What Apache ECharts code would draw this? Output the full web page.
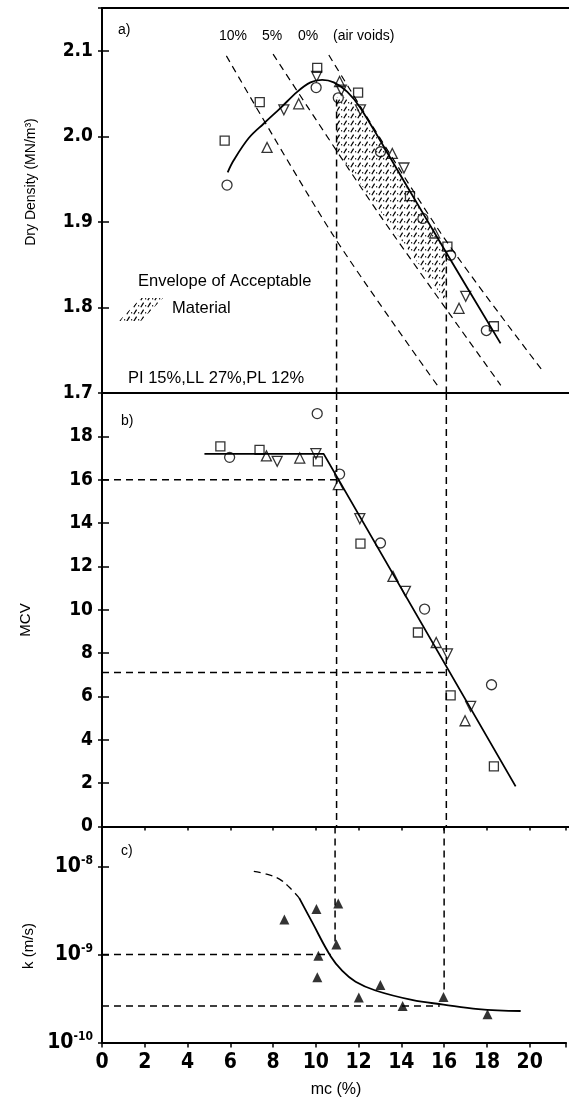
<!DOCTYPE html>
<html><head><meta charset="utf-8">
<script src="https://cdn.jsdelivr.net/npm/echarts@6/dist/echarts.min.js"></script>
<style>html,body{margin:0;padding:0;background:#fff}#c{width:569px;height:1101px}</style>
</head><body><div id="c"></div>
<script>
// ---------- data ----------
const mcTicks = [0,2,4,6,8,10,12,14,16,18,20];
const densityTicks = [1.7,1.8,1.9,2.0,2.1];
const mcvTicks = [0,2,4,6,8,10,12,14,16,18];
const kTicks = [1e-10,1e-9,1e-8];

// panel a: dry density vs mc
const aCircle   = [[5.81,1.943],[9.95,2.057],[10.98,2.045],[12.94,1.982],[14.91,1.904],[16.2,1.861],[17.86,1.773]];
const aSquare   = [[5.70,1.995],[7.33,2.040],[10.0,2.080],[11.9,2.051],[14.31,1.930],[16.05,1.871],[18.21,1.778]];
const aTriUp    = [[7.67,1.987],[9.14,2.038],[11.04,2.064],[13.49,1.980],[15.46,1.887],[16.59,1.799]];
const aTriDown  = [[8.45,2.031],[9.97,2.070],[11.12,2.054],[12.01,2.031],[14.03,1.963],[16.9,1.813]];
const aCurve    = [[5.84,1.958],[6.12,1.972],[6.82,1.998],[7.52,2.015],[8.29,2.033],[9.07,2.052],[9.69,2.063],[10.23,2.066],[10.77,2.063],[11.4,2.052],[12.01,2.033],[14.0,1.949],[16.0,1.864],[18.52,1.758]];
const airVoids10 = [[5.78,2.094],[10.7,1.886],[15.58,1.709]];
const airVoids5  = [[7.95,2.096],[12.8,1.912],[18.53,1.709]];
const airVoids0  = [[10.54,2.095],[15.74,1.887],[20.47,1.726]];
const envelope   = [[10.9,2.046],[11.4,2.046],[12.0,2.029],[13.0,1.990],[14.0,1.947],[15.0,1.905],[16.0,1.862],[16.0,1.806],[10.9,1.983]];
const aRefLines  = [[[10.9,2.043],[10.9,1.7]], [[16.0,1.862],[16.0,1.7]]];

// panel b: MCV vs mc
const bCircle  = [[5.93,17.03],[10.0,19.05],[11.04,16.26],[12.94,13.08],[14.99,10.03],[18.1,6.54]];
const bSquare  = [[5.5,17.54],[7.32,17.38],[10.03,16.85],[12.01,13.05],[14.68,8.95],[16.2,6.05],[18.21,2.77]];
const bTriUp   = [[7.64,17.1],[9.19,17.0],[10.98,15.77],[13.52,11.54],[15.53,8.49],[16.87,4.88]];
const bTriDown = [[8.14,16.85],[9.94,17.2],[11.98,14.2],[14.1,10.85],[16.05,7.96],[17.13,5.54]];
const bLine    = [[4.76,17.19],[10.3,17.19],[19.22,1.85]];
const bRefLines = [[[10.9,20],[10.9,0]], [[16.0,20],[16.0,0]], [[0,16],[10.9,16]], [[0,7.1],[16.0,7.1]]];

// panel c: permeability k vs mc
const cTri = [[8.53,2.5e-9],[10.03,3.3e-9],[11.05,3.8e-9],[10.96,1.3e-9],[10.12,0.97e-9],[10.07,5.5e-10],[13.02,4.5e-10],[12.01,3.25e-10],[14.06,2.6e-10],[15.97,3.3e-10],[18.03,2.1e-10]];
const cCurveDashed = [[7.1,8.8e-9],[7.7,8.2e-9],[8.3,7.2e-9],[8.76,5.8e-9],[9.22,4.4e-9]];
const cCurveSolid  = [[9.22,4.4e-9],[9.84,2.3e-9],[10.7,0.95e-9],[11.24,6.5e-10],[11.86,4.9e-10],[12.79,3.9e-10],[14.49,3.05e-10],[15.97,2.7e-10],[17.6,2.4e-10],[19.58,2.28e-10]];
const cRefLines = [[[10.9,2.85e-8],[10.9,1.35e-9]], [[16.0,2.85e-8],[16.0,3.6e-10]], [[0,1e-9],[10.7,1e-9]], [[0,2.6e-10],[15.8,2.6e-10]]];

// ---------- styles ----------
const NARROW = '"Liberation Sans Narrow","DejaVu Sans Condensed","Liberation Sans",sans-serif';
const SANS = '"Liberation Sans",Arial,sans-serif';
const DASH = [7,5];

function hatchPattern(){
  const c = document.createElement('canvas'); c.width = 7; c.height = 7;
  const g = c.getContext('2d');
  g.strokeStyle = '#000'; g.lineWidth = 1.2;
  g.beginPath(); g.moveTo(0.8,6.2); g.lineTo(3.6,1.6); g.stroke();
  g.fillStyle = '#000'; g.fillRect(5,4.2,1.2,1.2);
  return {image: c, repeat: 'repeat'};
}
const hatch = hatchPattern();

const openStyle = {color:'rgba(0,0,0,0)', borderColor:'#000', borderWidth:1.3};
function scatter(data, symbol, xi, yi, rot, size, style){
  return {type:'scatter', data, symbol, symbolSize:size||10, symbolRotate:rot||0,
    xAxisIndex:xi, yAxisIndex:yi, itemStyle:style||openStyle, z:5, silent:true};
}
function line(data, xi, yi, opts){
  opts = opts||{};
  return {type:'line', data, xAxisIndex:xi, yAxisIndex:yi, showSymbol:false, symbol:'none',
    smooth:opts.smooth||false, lineStyle:{color:'#000', width:opts.width||1.3, type:opts.type||'solid'},
    z:3, silent:true, clip:false};
}

const series = [];
// panel a
series.push({type:'custom', xAxisIndex:0, yAxisIndex:0, data:[[0,0]], silent:true, z:1,
  renderItem:(p, api)=>({type:'polygon', shape:{points: envelope.map(v=>api.coord(v))},
    style:{fill: hatch, stroke:'none'}})});
series.push(line(aCurve,0,0,{smooth:0.35,width:1.8}));
[airVoids10, airVoids5, airVoids0].forEach(d=>series.push(line(d,0,0,{smooth:0.3,type:DASH,width:1.2})));
aRefLines.forEach(d=>series.push(line(d,0,0,{type:DASH,width:1.5})));
series.push(scatter(aCircle,'circle',0,0,0,10));
series.push(scatter(aSquare,'rect',0,0,0,9));
series.push(scatter(aTriUp,'triangle',0,0,0,10));
series.push(scatter(aTriDown,'triangle',0,0,180,10));
// panel b
series.push(line(bLine,2,2,{width:1.8}));
bRefLines.forEach(d=>series.push(line(d,2,2,{type:DASH,width:1.5})));
series.push(scatter(bCircle,'circle',2,2,0,10));
series.push(scatter(bSquare,'rect',2,2,0,9));
series.push(scatter(bTriUp,'triangle',2,2,0,10));
series.push(scatter(bTriDown,'triangle',2,2,180,10));
// panel c
series.push(line(cCurveDashed,3,4,{smooth:0.4,type:DASH,width:1.3}));
series.push(line(cCurveSolid,3,4,{smooth:0.4,width:1.8}));
cRefLines.forEach(d=>series.push(line(d,3,4,{type:DASH,width:1.5})));
series.push(scatter(cTri,'triangle',3,4,0,10,{color:'#000'}));

const X_MAX = 21.7;
function xAxisBase(gi, extra){
  return Object.assign({type:'value', gridIndex:gi, min:0, max:X_MAX, interval:2,
    splitLine:{show:false}, axisLabel:{show:false}, axisTick:{show:false},
    axisLine:{show:true, lineStyle:{color:'#000', width:2}}}, extra||{});
}
const xAxes = [
  xAxisBase(0),
  xAxisBase(0,{position:'top'}),
  xAxisBase(1),
  xAxisBase(2,{axisTick:{show:true, length:5, lineStyle:{color:'#000', width:1.5}},
    axisLabel:{show:true, margin:10, color:'#000', fontFamily:NARROW, fontWeight:'bold', fontSize:21,
      formatter:v=> mcTicks.indexOf(Math.round(v*1000)/1000)>=0 ? String(Math.round(v)) : ''}}),
  xAxisBase(2,{axisLine:{show:false}, axisTick:{show:true, inside:true, length:4, lineStyle:{color:'#000', width:1.5}}})
];

function yPair(gi, base, labelFmt, rich){
  const main = Object.assign({gridIndex:gi, position:'left', splitLine:{show:false},
    axisLine:{show:true, lineStyle:{color:'#000', width:2}},
    axisTick:{show:true, inside:true, length:7, lineStyle:{color:'#000', width:1.5}},
    axisLabel:{show:true, margin:9, color:'#000', fontFamily:NARROW, fontWeight:'bold', fontSize:19,
      formatter:labelFmt, rich:rich}}, base);
  const dup = Object.assign({gridIndex:gi, position:'left', splitLine:{show:false},
    axisLine:{show:false}, axisLabel:{show:false},
    axisTick:{show:true, inside:false, length:4, lineStyle:{color:'#000', width:1.5}}}, base);
  return [main, dup];
}
const near = (v, list, tol) => list.some(t=>Math.abs(t-v) < tol);
const yAxes = [].concat(
  yPair(0, {type:'value', min:1.7, max:2.15, interval:0.1},
    v=> near(v, densityTicks, 1e-6) ? v.toFixed(1) : ''),
  yPair(1, {type:'value', min:0, max:20, interval:2},
    v=> near(v, mcvTicks, 1e-6) ? String(Math.round(v)) : ''),
  yPair(2, {type:'log', logBase:10, min:1e-10, max:2.85e-8},
    v=> { const e = Math.log10(v); const r = Math.round(e);
          return (Math.abs(e-r)<0.01 && near(Math.pow(10,r), kTicks, 1e-12)) ? '{b|10}{s|'+r+'}' : ''; },
    {b:{fontFamily:NARROW, fontWeight:'bold', fontSize:21, color:'#000'},
     s:{fontFamily:NARROW, fontWeight:'bold', fontSize:12, color:'#000', padding:[0,0,12,0]}})
);

function txt(x, y, text, size, opts){
  opts = opts||{};
  return {type:'text', x, y, rotation:opts.rot||0, silent:true, z:10,
    style:{text, fill:'#000', font: (opts.weight||'normal')+' '+size+'px '+SANS,
      textAlign:opts.align||'left', textVerticalAlign:'middle',
      align:opts.align||'left', verticalAlign:'middle'}};
}
const graphics = [
  txt(118,30,'a)',14), txt(121,421,'b)',14), txt(121,851,'c)',14),
  txt(219,36,'10%',14), txt(262,36,'5%',14), txt(298,36,'0%',14), txt(333,36,'(air voids)',14),
  txt(138,281,'Envelope of Acceptable',16.5),
  txt(172,308,'Material',16.5),
  txt(128,378,'PI 15%,LL 27%,PL 12%',16.5),
  txt(31,182,'Dry Density (MN/m³)',14,{rot:Math.PI/2, align:'center'}),
  txt(26,620,'MCV',15,{rot:Math.PI/2, align:'center'}),
  txt(29,946,'k (m/s)',15,{rot:Math.PI/2, align:'center'}),
  txt(336,1090,'mc (%)',16,{align:'center'}),
  {type:'polygon', silent:true, shape:{points:[[119,321],[141,298],[163,298],[141,321]]},
    style:{fill:hatch, stroke:'none'}}
];

const chart = echarts.init(document.getElementById('c'), null, {renderer:'canvas'});
chart.setOption({
  animation:false,
  backgroundColor:'#fff',
  grid:[
    {left:102, right:0, top:8, height:385},
    {left:102, right:0, top:393, height:433.5},
    {left:102, right:0, top:826.5, height:216}
  ],
  xAxis:xAxes,
  yAxis:yAxes,
  series:series,
  graphic:graphics
});
</script>
</body></html>
